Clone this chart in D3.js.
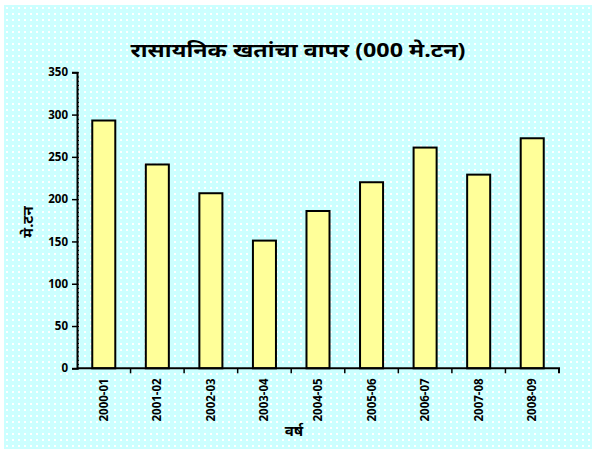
<!DOCTYPE html>
<html><head><meta charset="utf-8">
<script src="https://cdn.jsdelivr.net/npm/d3@7"></script>
<style>body{margin:0;background:#fff}svg{display:block}</style>
</head><body>
<script>
const years = ["2000-01","2001-02","2002-03","2003-04","2004-05","2005-06","2006-07","2007-08","2008-09"];
const usage = [293, 241, 207, 151, 186, 220, 261, 229, 272];
const yTicks = [0,50,100,150,200,250,300,350];
const titleText = "रासायनिक खतांचा वापर (000 मे.टन)";
const yLabel = "मे.टन";
const xLabel = "वर्ष";

const W = 595, H = 452;
const svg = d3.select("body").append("svg").attr("width", W).attr("height", H);
const defs = svg.append("defs");
const pat = defs.append("pattern").attr("id","dots").attr("patternUnits","userSpaceOnUse")
  .attr("width",6).attr("height",6).attr("x",4).attr("y",5);
pat.append("rect").attr("width",6).attr("height",6).attr("fill","#ccffff");
pat.append("rect").attr("x",2).attr("y",2).attr("width",2).attr("height",2).attr("fill","#ffffff");
svg.append("rect").attr("x",4).attr("y",5).attr("width",588).attr("height",444).attr("fill","url(#dots)");

const fontFam = "'Noto Sans', 'Liberation Sans', Arial, sans-serif";
const pLeft = 77, pRight = 559, pTop = 72.3, pBottom = 368.3;
const x = d3.scaleBand().domain(years).range([pLeft, pRight]).paddingInner(0.57).paddingOuter(0.285);
const y = d3.scaleLinear().domain([0,350]).range([pBottom, pTop]);

// bars
svg.append("g").selectAll("rect").data(usage).join("rect")
  .attr("x",(d,i)=>x(years[i]))
  .attr("y",d=>y(d))
  .attr("width",x.bandwidth())
  .attr("height",d=>pBottom-y(d))
  .attr("fill","#ffff99").attr("stroke","#000").attr("stroke-width",2);

// y axis
const ya = svg.append("g").attr("transform",`translate(${pLeft},0)`)
  .call(d3.axisLeft(y).tickValues(yTicks).tickSize(5).tickPadding(4));
ya.selectAll("text").attr("font-family",fontFam).attr("font-size",11.5).attr("font-weight","bold").attr("fill","#000");
ya.select(".domain").attr("stroke","#000").attr("stroke-width",2);
ya.selectAll(".tick line").attr("stroke","#000").attr("stroke-width",1.5);
// minor ticks
svg.append("g").attr("transform",`translate(${pLeft},0)`)
  .call(d3.axisRight(y).tickValues(d3.range(0,351,5)).tickSize(2).tickFormat(""))
  .call(g=>g.select(".domain").remove())
  .selectAll("line").attr("stroke","#000").attr("stroke-width",1);

// x axis
const xa = svg.append("g").attr("transform",`translate(0,${pBottom})`)
  .call(d3.axisBottom(x).tickSize(0).tickPadding(0));
xa.select(".domain").attr("stroke","#000").attr("stroke-width",2).attr("d",`M${pLeft},0H${pRight}v5`);
// category separator ticks
svg.append("g").selectAll("line").data(years.slice(1)).join("line")
  .attr("x1",d=>x(d)-x.step()*x.paddingInner()/2).attr("x2",d=>x(d)-x.step()*x.paddingInner()/2)
  .attr("y1",pBottom).attr("y2",pBottom+5).attr("stroke","#000").attr("stroke-width",1.5);
xa.selectAll(".tick text")
  .attr("font-family",fontFam).attr("font-size",11.5).attr("font-weight","bold").attr("fill","#000")
  .attr("text-anchor","end").attr("dy","0.35em")
  .attr("transform","translate(0,10) rotate(-90)");

// titles
svg.append("text").attr("x",298).attr("y",57).attr("text-anchor","middle")
  .attr("textLength",335).attr("lengthAdjust","spacingAndGlyphs")
  .attr("font-family",fontFam).attr("font-size",19).attr("font-weight","bold").text(titleText);
svg.append("text").attr("transform","translate(33,222) rotate(-90)").attr("text-anchor","middle")
  .attr("font-family",fontFam).attr("font-size",15).attr("font-weight","bold").text(yLabel);
svg.append("text").attr("x",294).attr("y",436).attr("text-anchor","middle")
  .attr("font-family",fontFam).attr("font-size",15).attr("font-weight","bold").text(xLabel);
</script>
</body></html>
